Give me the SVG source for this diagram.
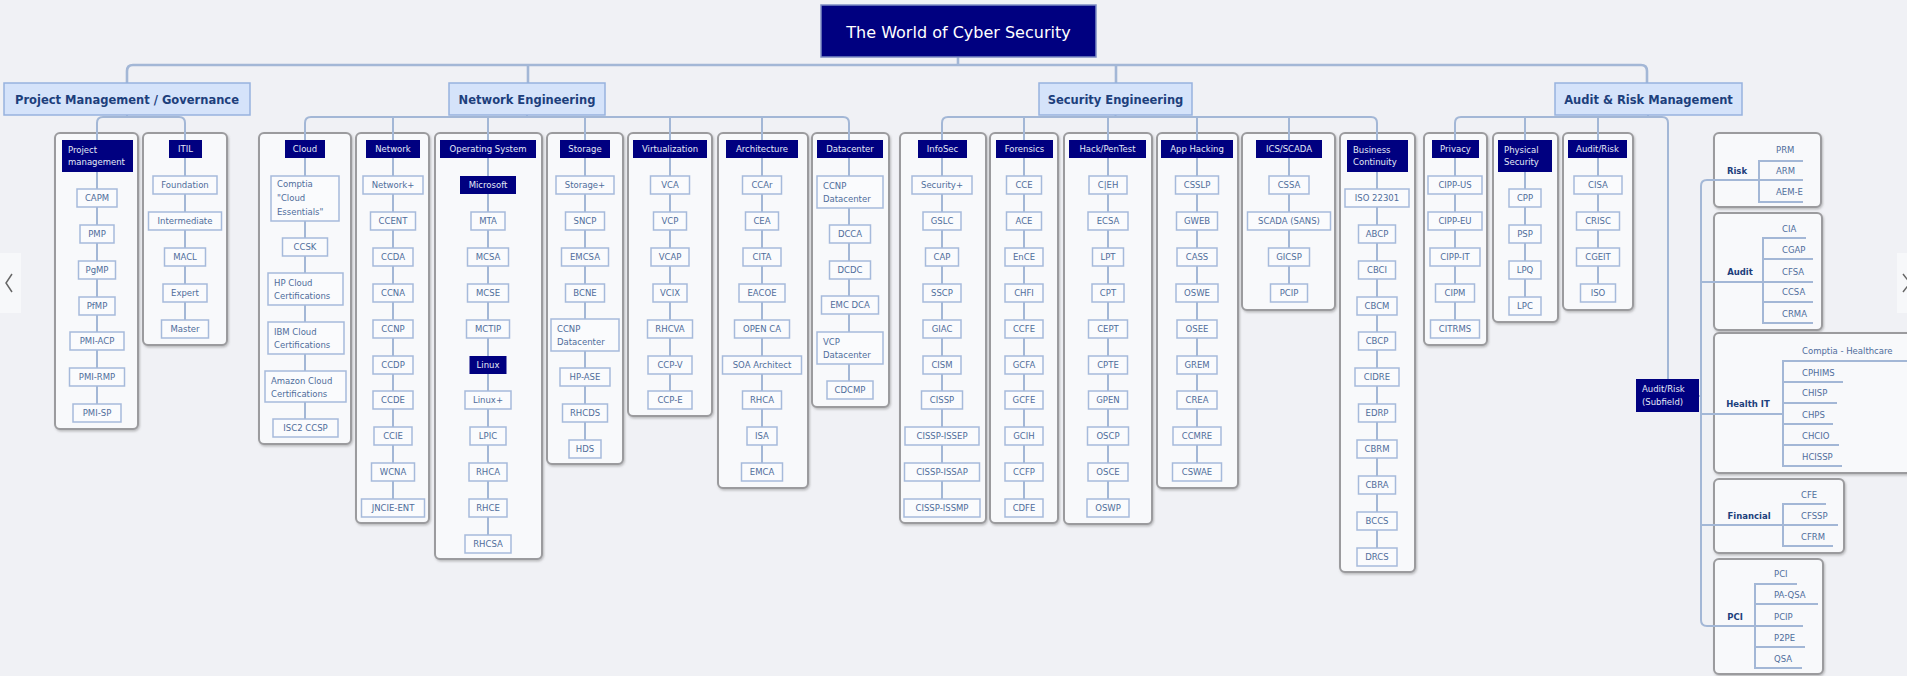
<svg xmlns="http://www.w3.org/2000/svg" width="1907" height="676" viewBox="0 0 1907 676">
<defs>
<style>
.bg{fill:#f0f1f5}
.c{fill:#f8f9fb;stroke:#9b9b9e;stroke-width:2}
.h{fill:#000080}
.i{fill:#fafbfd;stroke:#a6badb;stroke-width:1.5}
.k{fill:#d5e3fa;stroke:#97b2de;stroke-width:1.5}
.ln{fill:none;stroke:#a3b7d6;stroke-width:2}
.lt{fill:none;stroke:#a3b7d6;stroke-width:2.6}
.t{font-family:"DejaVu Sans",Verdana,sans-serif;font-size:8.5px;fill:#4f6d9b;text-anchor:middle}
.tl{font-family:"DejaVu Sans",Verdana,sans-serif;font-size:8.5px;fill:#4f6d9b;text-anchor:start}
.ht{font-family:"DejaVu Sans",Verdana,sans-serif;font-size:8.5px;fill:#e4eaf7;text-anchor:middle}
.htl{font-family:"DejaVu Sans",Verdana,sans-serif;font-size:8.5px;fill:#e4eaf7;text-anchor:start}
.kt{font-family:"DejaVu Sans",Verdana,sans-serif;font-size:11.5px;font-weight:bold;fill:#1d3f7c;text-anchor:middle}
.rl{font-family:"DejaVu Sans",Verdana,sans-serif;font-size:8.5px;font-weight:bold;fill:#1d3f7c;text-anchor:middle}
.tt{font-family:"DejaVu Sans",Verdana,sans-serif;font-size:16px;fill:#ffffff;text-anchor:middle}
</style>
<filter id="sh" x="-10%" y="-10%" width="130%" height="130%"><feDropShadow dx="1" dy="1.5" stdDeviation="1" flood-color="#777" flood-opacity="0.45"/></filter>
</defs>
<rect class="bg" x="0" y="0" width="1907" height="676"/>

<g id="nav">
<rect x="0" y="253" width="21" height="60" fill="#f7f8fa"/>
<polyline points="12,274 6,283 12,292" fill="none" stroke="#666" stroke-width="1.5"/>
<rect x="1897" y="253" width="10" height="60" fill="#f7f8fa"/>
<polyline points="1903,274 1910,283 1903,292" fill="none" stroke="#666" stroke-width="1.5"/>
</g>

<g id="containers" filter="url(#sh)">
<rect class="c" x="55" y="133" width="83" height="296" rx="5"/>
<rect class="c" x="143" y="133" width="84" height="212" rx="5"/>
<rect class="c" x="259" y="133" width="92" height="311" rx="5"/>
<rect class="c" x="356" y="133" width="73" height="390" rx="5"/>
<rect class="c" x="435" y="133" width="107" height="426" rx="5"/>
<rect class="c" x="547" y="133" width="76" height="331" rx="5"/>
<rect class="c" x="628" y="133" width="84" height="283" rx="5"/>
<rect class="c" x="718" y="133" width="90" height="355" rx="5"/>
<rect class="c" x="812" y="133" width="77" height="274" rx="5"/>
<rect class="c" x="900" y="133" width="86" height="390" rx="5"/>
<rect class="c" x="990" y="133" width="68" height="390" rx="5"/>
<rect class="c" x="1064" y="133" width="88" height="391" rx="5"/>
<rect class="c" x="1157" y="133" width="81" height="355" rx="5"/>
<rect class="c" x="1242" y="133" width="93" height="177" rx="5"/>
<rect class="c" x="1340" y="133" width="75" height="439" rx="5"/>
<rect class="c" x="1424" y="133" width="63" height="212" rx="5"/>
<rect class="c" x="1493" y="133" width="65" height="189" rx="5"/>
<rect class="c" x="1563" y="133" width="70" height="177" rx="5"/>
<rect class="c" x="1714" y="133" width="107" height="74" rx="5"/>
<rect class="c" x="1714" y="213" width="108" height="117" rx="5"/>
<rect class="c" x="1714" y="333" width="205" height="140" rx="5"/>
<rect class="c" x="1714" y="479" width="130" height="74" rx="5"/>
<rect class="c" x="1714" y="559" width="109" height="115" rx="5"/>
</g>

<g id="connectors">
<path class="lt" d="M127 83 V71 Q127 65 133 65 H1641 Q1647 65 1647 71 V83"/>
<path class="lt" d="M958 57 V65 M528 65 V83 M1116 65 V83"/>
<path class="ln" d="M127 115 V117 M527 115 V117 M1115.5 115 V117 M1648 115 V117"/>
<path class="ln" d="M97 413 V123 Q97 117 103 117 H179 Q185 117 185 123 V329"/>
<path class="ln" d="M305 428 V123 Q305 117 311 117 H843 Q849 117 849 123 V390"/>
<path class="ln" d="M393 117 V508 M488 117 V544 M585 117 V449 M670 117 V400 M762 117 V472"/>
<path class="ln" d="M942 508 V123 Q942 117 948 117 H1371 Q1377 117 1377 123 V557"/>
<path class="ln" d="M1024 117 V508 M1108 117 V508 M1197 117 V472 M1289 117 V293"/>
<path class="ln" d="M1455 329 V123 Q1455 117 1461 117 H1662 Q1668 117 1668 123 V379"/>
<path class="ln" d="M1525 117 V306 M1598 117 V293"/>
<path class="ln" d="M1803 180 H1707 Q1701 180 1701 186 V620 Q1701 626 1707 626 H1803"/>
<path class="ln" d="M1701 282 H1813 M1701 414 H1783 M1701 525 H1838 M1699 396 H1701"/>
<path class="ln" d="M1803 161 H1759 V202 H1803"/>
<path class="ln" d="M1806 238 H1763 V323 H1813 M1763 259 H1813 M1763 302 H1813"/>
<path class="ln" d="M1907 361 H1783 V466 H1842 M1783 382 H1843 M1783 403 H1837 M1783 424 H1833 M1783 445 H1839"/>
<path class="ln" d="M1826 504 H1783 V546 H1833"/>
<path class="ln" d="M1797 584 H1755 V668 H1802 M1755 604 H1818 M1755 647 H1805"/>
</g>

<g id="title"><rect x="821" y="5" width="275" height="52" fill="#000080" stroke="#7d8cc4" stroke-width="1.5"/><text class="tt" x="958.5" y="38">The World of Cyber Security</text></g>

<g id="cat-pmg"><rect class="k" x="4" y="83" width="246" height="32"/><text class="kt" x="127" y="104">Project Management / Governance</text></g>
<g id="cat-ne"><rect class="k" x="449" y="83" width="156" height="32"/><text class="kt" x="527" y="104">Network Engineering</text></g>
<g id="cat-se"><rect class="k" x="1039" y="83" width="153" height="32"/><text class="kt" x="1115.5" y="104">Security Engineering</text></g>
<g id="cat-arm"><rect class="k" x="1555" y="83" width="187" height="32"/><text class="kt" x="1648.5" y="104">Audit &amp; Risk Management</text></g>

<g id="col-pm">
<g id="h-pm"><rect class="h" x="62" y="140" width="71" height="32"/><text class="htl" x="68" y="153">Project</text><text class="htl" x="68" y="165">management</text></g>
<g id="n-capm"><rect class="i" x="77" y="189" width="40" height="18"/><text class="t" x="97" y="201">CAPM</text></g>
<g id="n-pmp"><rect class="i" x="80" y="225" width="34" height="18"/><text class="t" x="97" y="237">PMP</text></g>
<g id="n-pgmp"><rect class="i" x="78.5" y="261" width="37" height="18"/><text class="t" x="97" y="273">PgMP</text></g>
<g id="n-pfmp"><rect class="i" x="79" y="297" width="36" height="18"/><text class="t" x="97" y="309">PfMP</text></g>
<g id="n-pmiacp"><rect class="i" x="70" y="332" width="54" height="18"/><text class="t" x="97" y="344">PMI-ACP</text></g>
<g id="n-pmirmp"><rect class="i" x="69.5" y="368" width="55" height="18"/><text class="t" x="97" y="380">PMI-RMP</text></g>
<g id="n-pmisp"><rect class="i" x="73" y="404" width="48" height="18"/><text class="t" x="97" y="416">PMI-SP</text></g>
</g>

<g id="col-itil">
<g id="h-itil"><rect class="h" x="169" y="140" width="33" height="18"/><text class="ht" x="185.5" y="152">ITIL</text></g>
<g id="n-found"><rect class="i" x="153" y="176" width="64" height="18"/><text class="t" x="185" y="188">Foundation</text></g>
<g id="n-inter"><rect class="i" x="148.5" y="212" width="73" height="18"/><text class="t" x="185" y="224">Intermediate</text></g>
<g id="n-macl"><rect class="i" x="164.5" y="248" width="41" height="18"/><text class="t" x="185" y="260">MACL</text></g>
<g id="n-expert"><rect class="i" x="163" y="284" width="44" height="18"/><text class="t" x="185" y="296">Expert</text></g>
<g id="n-master"><rect class="i" x="161.5" y="320" width="47" height="18"/><text class="t" x="185" y="332">Master</text></g>
</g>

<g id="col-cloud">
<g id="h-cloud"><rect class="h" x="285" y="140" width="40" height="18"/><text class="ht" x="305" y="152">Cloud</text></g>
<g id="n-comptia"><rect class="i" x="271" y="176" width="68" height="45"/><text class="tl" x="277" y="187">Comptia</text><text class="tl" x="277" y="201">"Cloud</text><text class="tl" x="277" y="215">Essentials"</text></g>
<g id="n-ccsk"><rect class="i" x="282.5" y="238" width="45" height="18"/><text class="t" x="305" y="250">CCSK</text></g>
<g id="n-hpcloud"><rect class="i" x="268" y="273" width="75" height="32"/><text class="tl" x="274" y="286">HP Cloud</text><text class="tl" x="274" y="299">Certifications</text></g>
<g id="n-ibmcloud"><rect class="i" x="268" y="322" width="76" height="32"/><text class="tl" x="274" y="335">IBM Cloud</text><text class="tl" x="274" y="348">Certifications</text></g>
<g id="n-amzcloud"><rect class="i" x="265" y="371" width="81" height="31"/><text class="tl" x="271" y="384">Amazon Cloud</text><text class="tl" x="271" y="397">Certifications</text></g>
<g id="n-ccsp"><rect class="i" x="273" y="419" width="65" height="18"/><text class="t" x="305.5" y="431">ISC2 CCSP</text></g>
</g>

<g id="col-network">
<g id="h-network"><rect class="h" x="366" y="140" width="54" height="18"/><text class="ht" x="393" y="152">Network</text></g>
<g id="n-netplus"><rect class="i" x="363" y="176" width="60" height="18"/><text class="t" x="393" y="188">Network+</text></g>
<g id="n-ccent"><rect class="i" x="370.5" y="212" width="45" height="18"/><text class="t" x="393" y="224">CCENT</text></g>
<g id="n-ccda"><rect class="i" x="373" y="248" width="40" height="18"/><text class="t" x="393" y="260">CCDA</text></g>
<g id="n-ccna"><rect class="i" x="373" y="284" width="40" height="18"/><text class="t" x="393" y="296">CCNA</text></g>
<g id="n-ccnp"><rect class="i" x="373" y="320" width="40" height="18"/><text class="t" x="393" y="332">CCNP</text></g>
<g id="n-ccdp"><rect class="i" x="373" y="356" width="40" height="18"/><text class="t" x="393" y="368">CCDP</text></g>
<g id="n-ccde"><rect class="i" x="373" y="391" width="40" height="18"/><text class="t" x="393" y="403">CCDE</text></g>
<g id="n-ccie"><rect class="i" x="374" y="427" width="38" height="18"/><text class="t" x="393" y="439">CCIE</text></g>
<g id="n-wcna"><rect class="i" x="371.5" y="463" width="43" height="18"/><text class="t" x="393" y="475">WCNA</text></g>
<g id="n-jncie"><rect class="i" x="361.5" y="499" width="63" height="18"/><text class="t" x="393" y="511">JNCIE-ENT</text></g>
</g>

<g id="col-os">
<g id="h-os"><rect class="h" x="440" y="140" width="96" height="18"/><text class="ht" x="488" y="152">Operating System</text></g>
<g id="h-ms"><rect class="h" x="460" y="176" width="56" height="18"/><text class="ht" x="488" y="188">Microsoft</text></g>
<g id="n-mta"><rect class="i" x="471" y="212" width="34" height="18"/><text class="t" x="488" y="224">MTA</text></g>
<g id="n-mcsa"><rect class="i" x="467.5" y="248" width="41" height="18"/><text class="t" x="488" y="260">MCSA</text></g>
<g id="n-mcse"><rect class="i" x="467.5" y="284" width="41" height="18"/><text class="t" x="488" y="296">MCSE</text></g>
<g id="n-mctip"><rect class="i" x="466.5" y="320" width="43" height="18"/><text class="t" x="488" y="332">MCTIP</text></g>
<g id="h-linux"><rect class="h" x="469.5" y="356" width="37" height="18"/><text class="ht" x="488" y="368">Linux</text></g>
<g id="n-linuxplus"><rect class="i" x="465" y="391" width="46" height="18"/><text class="t" x="488" y="403">Linux+</text></g>
<g id="n-lpic"><rect class="i" x="470" y="427" width="36" height="18"/><text class="t" x="488" y="439">LPIC</text></g>
<g id="n-rhca1"><rect class="i" x="469" y="463" width="38" height="18"/><text class="t" x="488" y="475">RHCA</text></g>
<g id="n-rhce"><rect class="i" x="469" y="499" width="38" height="18"/><text class="t" x="488" y="511">RHCE</text></g>
<g id="n-rhcsa"><rect class="i" x="465" y="535" width="46" height="18"/><text class="t" x="488" y="547">RHCSA</text></g>
</g>

<g id="col-storage">
<g id="h-storage"><rect class="h" x="560" y="140" width="50" height="18"/><text class="ht" x="585" y="152">Storage</text></g>
<g id="n-storplus"><rect class="i" x="556" y="176" width="58" height="18"/><text class="t" x="585" y="188">Storage+</text></g>
<g id="n-sncp"><rect class="i" x="565.5" y="212" width="39" height="18"/><text class="t" x="585" y="224">SNCP</text></g>
<g id="n-emcsa"><rect class="i" x="561.5" y="248" width="47" height="18"/><text class="t" x="585" y="260">EMCSA</text></g>
<g id="n-bcne"><rect class="i" x="565.5" y="284" width="39" height="18"/><text class="t" x="585" y="296">BCNE</text></g>
<g id="n-ccnpdc1"><rect class="i" x="551" y="319" width="68" height="32"/><text class="tl" x="557" y="332">CCNP</text><text class="tl" x="557" y="345">Datacenter</text></g>
<g id="n-hpase"><rect class="i" x="560" y="368" width="50" height="18"/><text class="t" x="585" y="380">HP-ASE</text></g>
<g id="n-rhcds"><rect class="i" x="562.5" y="404" width="45" height="18"/><text class="t" x="585" y="416">RHCDS</text></g>
<g id="n-hds"><rect class="i" x="569" y="440" width="32" height="18"/><text class="t" x="585" y="452">HDS</text></g>
</g>

<g id="col-virt">
<g id="h-virt"><rect class="h" x="633" y="140" width="74" height="18"/><text class="ht" x="670" y="152">Virtualization</text></g>
<g id="n-vca"><rect class="i" x="650.5" y="176" width="39" height="18"/><text class="t" x="670" y="188">VCA</text></g>
<g id="n-vcp"><rect class="i" x="653.5" y="212" width="33" height="18"/><text class="t" x="670" y="224">VCP</text></g>
<g id="n-vcap"><rect class="i" x="651" y="248" width="38" height="18"/><text class="t" x="670" y="260">VCAP</text></g>
<g id="n-vcix"><rect class="i" x="653" y="284" width="34" height="18"/><text class="t" x="670" y="296">VCIX</text></g>
<g id="n-rhcva"><rect class="i" x="647.5" y="320" width="45" height="18"/><text class="t" x="670" y="332">RHCVA</text></g>
<g id="n-ccpv"><rect class="i" x="648" y="356" width="44" height="18"/><text class="t" x="670" y="368">CCP-V</text></g>
<g id="n-ccpe"><rect class="i" x="648" y="391" width="44" height="18"/><text class="t" x="670" y="403">CCP-E</text></g>
</g>

<g id="col-arch">
<g id="h-arch"><rect class="h" x="726" y="140" width="72" height="18"/><text class="ht" x="762" y="152">Architecture</text></g>
<g id="n-ccar"><rect class="i" x="742.5" y="176" width="39" height="18"/><text class="t" x="762" y="188">CCAr</text></g>
<g id="n-cea"><rect class="i" x="745.5" y="212" width="33" height="18"/><text class="t" x="762" y="224">CEA</text></g>
<g id="n-cita"><rect class="i" x="743" y="248" width="38" height="18"/><text class="t" x="762" y="260">CITA</text></g>
<g id="n-eacoe"><rect class="i" x="739" y="284" width="46" height="18"/><text class="t" x="762" y="296">EACOE</text></g>
<g id="n-openca"><rect class="i" x="734.5" y="320" width="55" height="18"/><text class="t" x="762" y="332">OPEN CA</text></g>
<g id="n-soa"><rect class="i" x="722.5" y="356" width="79" height="18"/><text class="t" x="762" y="368">SOA Architect</text></g>
<g id="n-rhca2"><rect class="i" x="742.5" y="391" width="39" height="18"/><text class="t" x="762" y="403">RHCA</text></g>
<g id="n-isa"><rect class="i" x="747" y="427" width="30" height="18"/><text class="t" x="762" y="439">ISA</text></g>
<g id="n-emca"><rect class="i" x="741.5" y="463" width="41" height="18"/><text class="t" x="762" y="475">EMCA</text></g>
</g>

<g id="col-dc">
<g id="h-dc"><rect class="h" x="817" y="140" width="66" height="18"/><text class="ht" x="850" y="152">Datacenter</text></g>
<g id="n-ccnpdc2"><rect class="i" x="817" y="176" width="66" height="32"/><text class="tl" x="823" y="189">CCNP</text><text class="tl" x="823" y="202">Datacenter</text></g>
<g id="n-dcca"><rect class="i" x="829.5" y="225" width="41" height="18"/><text class="t" x="850" y="237">DCCA</text></g>
<g id="n-dcdc"><rect class="i" x="829.5" y="261" width="41" height="18"/><text class="t" x="850" y="273">DCDC</text></g>
<g id="n-emcdca"><rect class="i" x="821.5" y="296" width="57" height="18"/><text class="t" x="850" y="308">EMC DCA</text></g>
<g id="n-vcpdc"><rect class="i" x="817" y="332" width="66" height="32"/><text class="tl" x="823" y="345">VCP</text><text class="tl" x="823" y="358">Datacenter</text></g>
<g id="n-cdcmp"><rect class="i" x="827" y="381" width="46" height="18"/><text class="t" x="850" y="393">CDCMP</text></g>
</g>

<g id="col-infosec">
<g id="h-infosec"><rect class="h" x="918" y="140" width="49" height="18"/><text class="ht" x="942.5" y="152">InfoSec</text></g>
<g id="n-secplus"><rect class="i" x="912" y="176" width="60" height="18"/><text class="t" x="942" y="188">Security+</text></g>
<g id="n-gslc"><rect class="i" x="923" y="212" width="38" height="18"/><text class="t" x="942" y="224">GSLC</text></g>
<g id="n-cap"><rect class="i" x="925.5" y="248" width="33" height="18"/><text class="t" x="942" y="260">CAP</text></g>
<g id="n-sscp"><rect class="i" x="923" y="284" width="38" height="18"/><text class="t" x="942" y="296">SSCP</text></g>
<g id="n-giac"><rect class="i" x="923" y="320" width="38" height="18"/><text class="t" x="942" y="332">GIAC</text></g>
<g id="n-cism"><rect class="i" x="923" y="356" width="38" height="18"/><text class="t" x="942" y="368">CISM</text></g>
<g id="n-cissp"><rect class="i" x="921.5" y="391" width="41" height="18"/><text class="t" x="942" y="403">CISSP</text></g>
<g id="n-issep"><rect class="i" x="905" y="427" width="74" height="18"/><text class="t" x="942" y="439">CISSP-ISSEP</text></g>
<g id="n-issap"><rect class="i" x="904.5" y="463" width="75" height="18"/><text class="t" x="942" y="475">CISSP-ISSAP</text></g>
<g id="n-issmp"><rect class="i" x="904" y="499" width="76" height="18"/><text class="t" x="942" y="511">CISSP-ISSMP</text></g>
</g>

<g id="col-forensics">
<g id="h-forensics"><rect class="h" x="996" y="140" width="57" height="18"/><text class="ht" x="1024.5" y="152">Forensics</text></g>
<g id="n-cce"><rect class="i" x="1006.5" y="176" width="35" height="18"/><text class="t" x="1024" y="188">CCE</text></g>
<g id="n-ace"><rect class="i" x="1006.5" y="212" width="35" height="18"/><text class="t" x="1024" y="224">ACE</text></g>
<g id="n-ence"><rect class="i" x="1005" y="248" width="38" height="18"/><text class="t" x="1024" y="260">EnCE</text></g>
<g id="n-chfi"><rect class="i" x="1005" y="284" width="38" height="18"/><text class="t" x="1024" y="296">CHFI</text></g>
<g id="n-ccfe"><rect class="i" x="1005" y="320" width="38" height="18"/><text class="t" x="1024" y="332">CCFE</text></g>
<g id="n-gcfa"><rect class="i" x="1005" y="356" width="38" height="18"/><text class="t" x="1024" y="368">GCFA</text></g>
<g id="n-gcfe"><rect class="i" x="1005" y="391" width="38" height="18"/><text class="t" x="1024" y="403">GCFE</text></g>
<g id="n-gcih"><rect class="i" x="1005" y="427" width="38" height="18"/><text class="t" x="1024" y="439">GCIH</text></g>
<g id="n-ccfp"><rect class="i" x="1005" y="463" width="38" height="18"/><text class="t" x="1024" y="475">CCFP</text></g>
<g id="n-cdfe"><rect class="i" x="1005" y="499" width="38" height="18"/><text class="t" x="1024" y="511">CDFE</text></g>
</g>

<g id="col-hack">
<g id="h-hack"><rect class="h" x="1069" y="140" width="77" height="18"/><text class="ht" x="1107.5" y="152">Hack/PenTest</text></g>
<g id="n-ceh"><rect class="i" x="1089" y="176" width="38" height="18"/><text class="t" x="1108" y="188">C|EH</text></g>
<g id="n-ecsa"><rect class="i" x="1088" y="212" width="40" height="18"/><text class="t" x="1108" y="224">ECSA</text></g>
<g id="n-lpt"><rect class="i" x="1092.5" y="248" width="31" height="18"/><text class="t" x="1108" y="260">LPT</text></g>
<g id="n-cpt"><rect class="i" x="1092" y="284" width="32" height="18"/><text class="t" x="1108" y="296">CPT</text></g>
<g id="n-cept"><rect class="i" x="1088.5" y="320" width="39" height="18"/><text class="t" x="1108" y="332">CEPT</text></g>
<g id="n-cpte"><rect class="i" x="1088.5" y="356" width="39" height="18"/><text class="t" x="1108" y="368">CPTE</text></g>
<g id="n-gpen"><rect class="i" x="1088.5" y="391" width="39" height="18"/><text class="t" x="1108" y="403">GPEN</text></g>
<g id="n-oscp"><rect class="i" x="1087.5" y="427" width="41" height="18"/><text class="t" x="1108" y="439">OSCP</text></g>
<g id="n-osce"><rect class="i" x="1088" y="463" width="40" height="18"/><text class="t" x="1108" y="475">OSCE</text></g>
<g id="n-oswp"><rect class="i" x="1087" y="499" width="42" height="18"/><text class="t" x="1108" y="511">OSWP</text></g>
</g>

<g id="col-apphack">
<g id="h-apphack"><rect class="h" x="1161" y="140" width="72" height="18"/><text class="ht" x="1197" y="152">App Hacking</text></g>
<g id="n-csslp"><rect class="i" x="1175.5" y="176" width="43" height="18"/><text class="t" x="1197" y="188">CSSLP</text></g>
<g id="n-gweb"><rect class="i" x="1176.5" y="212" width="41" height="18"/><text class="t" x="1197" y="224">GWEB</text></g>
<g id="n-cass"><rect class="i" x="1177" y="248" width="40" height="18"/><text class="t" x="1197" y="260">CASS</text></g>
<g id="n-oswe"><rect class="i" x="1176" y="284" width="42" height="18"/><text class="t" x="1197" y="296">OSWE</text></g>
<g id="n-osee"><rect class="i" x="1177" y="320" width="40" height="18"/><text class="t" x="1197" y="332">OSEE</text></g>
<g id="n-grem"><rect class="i" x="1177" y="356" width="40" height="18"/><text class="t" x="1197" y="368">GREM</text></g>
<g id="n-crea"><rect class="i" x="1177" y="391" width="40" height="18"/><text class="t" x="1197" y="403">CREA</text></g>
<g id="n-ccmre"><rect class="i" x="1173" y="427" width="48" height="18"/><text class="t" x="1197" y="439">CCMRE</text></g>
<g id="n-cswae"><rect class="i" x="1172.5" y="463" width="49" height="18"/><text class="t" x="1197" y="475">CSWAE</text></g>
</g>

<g id="col-ics">
<g id="h-ics"><rect class="h" x="1256" y="140" width="66" height="18"/><text class="ht" x="1289" y="152">ICS/SCADA</text></g>
<g id="n-cssa"><rect class="i" x="1269" y="176" width="40" height="18"/><text class="t" x="1289" y="188">CSSA</text></g>
<g id="n-scada"><rect class="i" x="1247.5" y="212" width="83" height="18"/><text class="t" x="1289" y="224">SCADA (SANS)</text></g>
<g id="n-gicsp"><rect class="i" x="1268.5" y="248" width="41" height="18"/><text class="t" x="1289" y="260">GICSP</text></g>
<g id="n-pcip1"><rect class="i" x="1270.5" y="284" width="37" height="18"/><text class="t" x="1289" y="296">PCIP</text></g>
</g>

<g id="col-bc">
<g id="h-bc"><rect class="h" x="1347" y="140" width="61" height="32"/><text class="htl" x="1353" y="153">Business</text><text class="htl" x="1353" y="165">Continuity</text></g>
<g id="n-iso22301"><rect class="i" x="1345" y="189" width="64" height="18"/><text class="t" x="1377" y="201">ISO 22301</text></g>
<g id="n-abcp"><rect class="i" x="1358.5" y="225" width="37" height="18"/><text class="t" x="1377" y="237">ABCP</text></g>
<g id="n-cbci"><rect class="i" x="1358.5" y="261" width="37" height="18"/><text class="t" x="1377" y="273">CBCI</text></g>
<g id="n-cbcm"><rect class="i" x="1357" y="297" width="40" height="18"/><text class="t" x="1377" y="309">CBCM</text></g>
<g id="n-cbcp"><rect class="i" x="1358.5" y="332" width="37" height="18"/><text class="t" x="1377" y="344">CBCP</text></g>
<g id="n-cidre"><rect class="i" x="1355" y="368" width="44" height="18"/><text class="t" x="1377" y="380">CIDRE</text></g>
<g id="n-edrp"><rect class="i" x="1358.5" y="404" width="37" height="18"/><text class="t" x="1377" y="416">EDRP</text></g>
<g id="n-cbrm"><rect class="i" x="1357" y="440" width="40" height="18"/><text class="t" x="1377" y="452">CBRM</text></g>
<g id="n-cbra"><rect class="i" x="1358.5" y="476" width="37" height="18"/><text class="t" x="1377" y="488">CBRA</text></g>
<g id="n-bccs"><rect class="i" x="1357" y="512" width="40" height="18"/><text class="t" x="1377" y="524">BCCS</text></g>
<g id="n-drcs"><rect class="i" x="1357" y="548" width="40" height="18"/><text class="t" x="1377" y="560">DRCS</text></g>
</g>

<g id="col-privacy">
<g id="h-privacy"><rect class="h" x="1432" y="140" width="47" height="18"/><text class="ht" x="1455.5" y="152">Privacy</text></g>
<g id="n-cippus"><rect class="i" x="1428" y="176" width="54" height="18"/><text class="t" x="1455" y="188">CIPP-US</text></g>
<g id="n-cippeu"><rect class="i" x="1428" y="212" width="54" height="18"/><text class="t" x="1455" y="224">CIPP-EU</text></g>
<g id="n-cippit"><rect class="i" x="1430" y="248" width="50" height="18"/><text class="t" x="1455" y="260">CIPP-IT</text></g>
<g id="n-cipm"><rect class="i" x="1435.5" y="284" width="39" height="18"/><text class="t" x="1455" y="296">CIPM</text></g>
<g id="n-citrms"><rect class="i" x="1430.5" y="320" width="49" height="18"/><text class="t" x="1455" y="332">CITRMS</text></g>
</g>

<g id="col-physsec">
<g id="h-physsec"><rect class="h" x="1498" y="140" width="54" height="32"/><text class="htl" x="1504" y="153">Physical</text><text class="htl" x="1504" y="165">Security</text></g>
<g id="n-cpp"><rect class="i" x="1509" y="189" width="32" height="18"/><text class="t" x="1525" y="201">CPP</text></g>
<g id="n-psp"><rect class="i" x="1509" y="225" width="32" height="18"/><text class="t" x="1525" y="237">PSP</text></g>
<g id="n-lpq"><rect class="i" x="1509" y="261" width="32" height="18"/><text class="t" x="1525" y="273">LPQ</text></g>
<g id="n-lpc"><rect class="i" x="1509" y="297" width="32" height="18"/><text class="t" x="1525" y="309">LPC</text></g>
</g>

<g id="col-auditrisk">
<g id="h-auditrisk"><rect class="h" x="1568" y="140" width="59" height="18"/><text class="ht" x="1597.5" y="152">Audit/Risk</text></g>
<g id="n-cisa"><rect class="i" x="1574" y="176" width="48" height="18"/><text class="t" x="1598" y="188">CISA</text></g>
<g id="n-crisc"><rect class="i" x="1576.5" y="212" width="43" height="18"/><text class="t" x="1598" y="224">CRISC</text></g>
<g id="n-cgeit"><rect class="i" x="1576.5" y="248" width="43" height="18"/><text class="t" x="1598" y="260">CGEIT</text></g>
<g id="n-iso"><rect class="i" x="1580.5" y="284" width="35" height="18"/><text class="t" x="1598" y="296">ISO</text></g>
</g>

<g id="n-subfield"><rect class="h" x="1636" y="379" width="63" height="33"/><text class="htl" x="1642" y="392">Audit/Risk</text><text class="htl" x="1642" y="405">(Subfield)</text></g>

<g id="grp-risk">
<text class="rl" x="1737" y="174">Risk</text>
<text class="tl" x="1776" y="153">PRM</text>
<text class="tl" x="1776" y="174">ARM</text>
<text class="tl" x="1776" y="195">AEM-E</text>
</g>
<g id="grp-audit">
<text class="rl" x="1740" y="275">Audit</text>
<text class="tl" x="1782" y="232">CIA</text>
<text class="tl" x="1782" y="253">CGAP</text>
<text class="tl" x="1782" y="275">CFSA</text>
<text class="tl" x="1782" y="295">CCSA</text>
<text class="tl" x="1782" y="317">CRMA</text>
</g>
<g id="grp-health">
<text class="rl" x="1748" y="407">Health IT</text>
<text class="tl" x="1802" y="354">Comptia - Healthcare</text>
<text class="tl" x="1802" y="376">CPHIMS</text>
<text class="tl" x="1802" y="396">CHISP</text>
<text class="tl" x="1802" y="418">CHPS</text>
<text class="tl" x="1802" y="439">CHCIO</text>
<text class="tl" x="1802" y="460">HCISSP</text>
</g>
<g id="grp-financial">
<text class="rl" x="1749" y="519">Financial</text>
<text class="tl" x="1801" y="498">CFE</text>
<text class="tl" x="1801" y="519">CFSSP</text>
<text class="tl" x="1801" y="540">CFRM</text>
</g>
<g id="grp-pci">
<text class="rl" x="1735" y="620">PCI</text>
<text class="tl" x="1774" y="577">PCI</text>
<text class="tl" x="1774" y="598">PA-QSA</text>
<text class="tl" x="1774" y="620">PCIP</text>
<text class="tl" x="1774" y="641">P2PE</text>
<text class="tl" x="1774" y="662">QSA</text>
</g>
</svg>
